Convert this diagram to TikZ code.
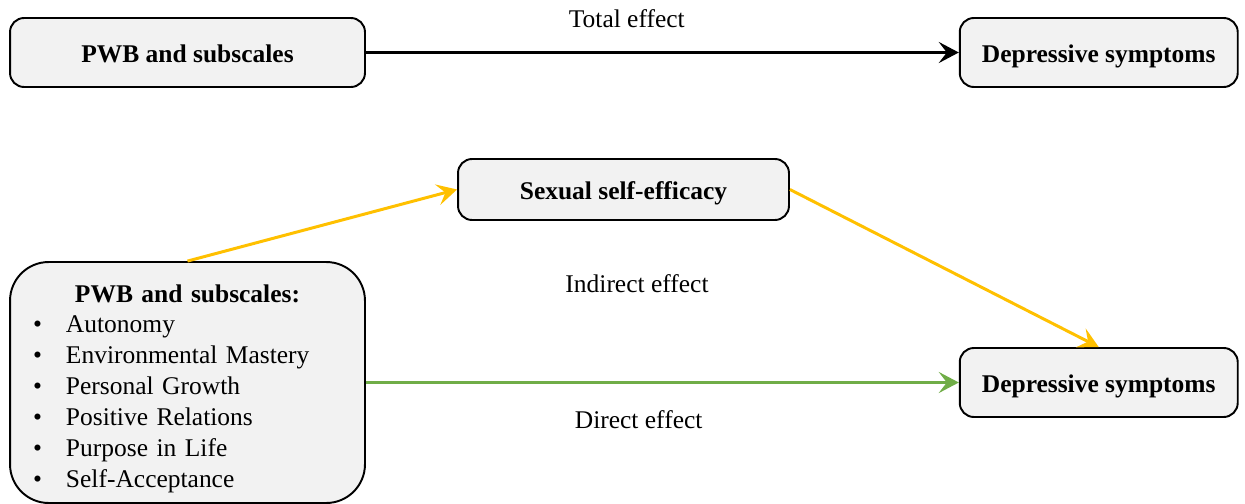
\documentclass[tikz,border=0pt]{standalone}
\usepackage{fontspec}
\IfFontExistsTF{LiberationSerif-Regular.ttf}{%
  \setmainfont{LiberationSerif}[Extension=.ttf, UprightFont=*-Regular, BoldFont=*-Bold, ItalicFont=*-Italic, BoldItalicFont=*-BoldItalic]}{%
  \setmainfont{Liberation Serif}}
\usepackage{xcolor}
\usetikzlibrary{arrows.meta, positioning, calc}
\definecolor{boxfill}{HTML}{F2F2F2}
\definecolor{indirectcol}{HTML}{FFC000}
\definecolor{directcol}{HTML}{70AD47}
\tikzstyle{varbox} = [draw, rectangle, rounded corners=8pt, line width=1.1pt, fill=boxfill, text centered, text height=0.45cm, text depth=0.05cm, font=\bfseries\fontsize{14.5}{17.6}\selectfont]
\tikzstyle{listbox} = [draw, rectangle, rounded corners=22pt, line width=1.1pt, fill=boxfill, align=left, text width=6.18cm, inner xsep=0.46cm, minimum width=7.1cm, minimum height=4.82cm, font=\fontsize{14.5}{17.6}\selectfont]
\tikzstyle{effect} = [text=black, font=\fontsize{14.5}{17.6}\selectfont]
\tikzstyle{arrow} = [line width=1.7pt, -{Stealth[length=0.4cm, width=0.42cm, inset=0.16cm]}]

\begin{document}
\begin{tikzpicture}[x=0.02cm, y=-0.02cm]
    \useasboundingbox (0,0) rectangle (1245,504);
    % total effect model
    \node (pwb) [varbox, minimum width=7.1cm, minimum height=1.38cm] at (187.5,52.5) {PWB and subscales};
    \node (dep) [varbox, minimum width=5.56cm, minimum height=1.38cm, right=11.86cm of pwb] {Depressive symptoms};
    % mediation model
    \node (sse) [varbox, minimum width=6.62cm, minimum height=1.22cm] at (623.5,189.5) {Sexual self-efficacy};
    \node (pwbsub) [listbox] at (187.5,382.5) {%
        \makebox[\linewidth][c]{\rule{0pt}{0.6cm}\textbf{PWB and subscales:}}\\
        \makebox[0.66cm][l]{\textbullet}Autonomy\\
        \makebox[0.66cm][l]{\textbullet}Environmental Mastery\\
        \makebox[0.66cm][l]{\textbullet}Personal Growth\\
        \makebox[0.66cm][l]{\textbullet}Positive Relations\\
        \makebox[0.66cm][l]{\textbullet}Purpose in Life\\
        \makebox[0.66cm][l]{\textbullet}Self-Acceptance};
    \node (dep2) [varbox, minimum width=5.56cm, minimum height=1.38cm, right=11.86cm of pwbsub] {Depressive symptoms};
    \node (indirect) [effect] at (637,284) {Indirect effect};

    \draw [arrow, black] (pwb) -- node[effect, pos=0.44, above=0.34cm] {Total effect} (dep);
    \draw [arrow, indirectcol] (pwbsub.north) -- (sse.west);
    \draw [arrow, indirectcol] (sse.east) -- (dep2.north);
    \draw [arrow, directcol] (pwbsub.east |- dep2) -- node[effect, pos=0.46, below=0.42cm] {Direct effect} (dep2);
\end{tikzpicture}
\end{document}
